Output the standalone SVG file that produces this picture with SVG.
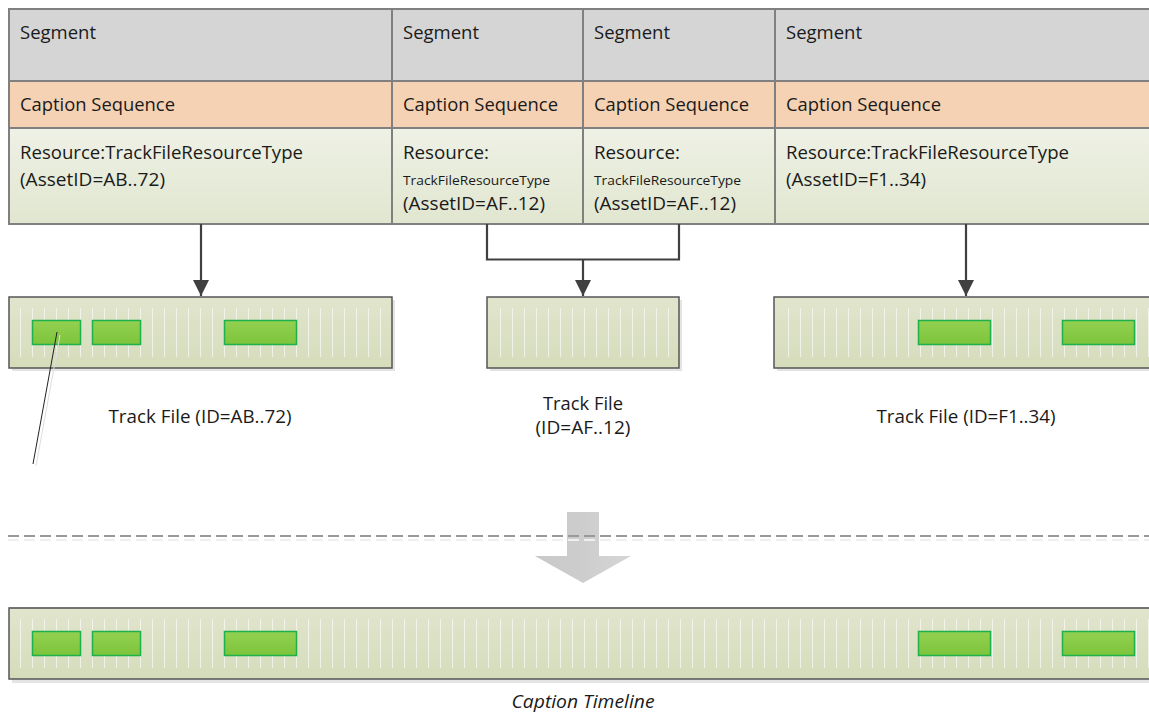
<svg xmlns="http://www.w3.org/2000/svg" width="1149" height="713" viewBox="0 0 1149 713">
<style>
text{font-family:"Open Sans","Liberation Sans",sans-serif;fill:#1a1a1a;font-size:18px}
.sm{font-size:13.5px}
.it{font-style:italic}
.seg{fill:#d5d5d5;stroke:#808080;stroke-width:2}
.cap{fill:#f6d2b4;stroke:#808080;stroke-width:2}
.res{fill:url(#gRes);stroke:#808080;stroke-width:2}
.trk{fill:url(#gTrk);stroke:#555;stroke-width:1.5}
.shd{fill:#e4e4e4}
.tick{fill:url(#pTick)}
.grn{fill:url(#gGrn);stroke:#1eb04a;stroke-width:1.5}
.con{fill:none;stroke:#404040;stroke-width:2.2}
</style>
<defs>
<linearGradient id="gRes" x1="0" y1="0" x2="0" y2="1"><stop offset="0" stop-color="#eef1e5"/><stop offset="1" stop-color="#e1e6d0"/></linearGradient>
<linearGradient id="gTrk" x1="0" y1="0" x2="0" y2="1"><stop offset="0" stop-color="#e1e5cd"/><stop offset="1" stop-color="#d5dcbb"/></linearGradient>
<linearGradient id="gGrn" x1="0" y1="0" x2="0" y2="1"><stop offset="0" stop-color="#93d151"/><stop offset="1" stop-color="#7dc43b"/></linearGradient>
<linearGradient id="gArr" x1="0" y1="0" x2="1" y2="0"><stop offset="0" stop-color="#c9c9c9"/><stop offset="0.5" stop-color="#cdcdcd"/><stop offset="1" stop-color="#d6d6d6"/></linearGradient>
<pattern id="pTick" patternUnits="userSpaceOnUse" x="20" y="0" width="12" height="713"><rect x="0" y="0" width="1" height="713" fill="#ffffff" fill-opacity="0.6"/></pattern>
<marker id="ah" viewBox="0 0 16 16" refX="16" refY="8" markerWidth="16" markerHeight="16" markerUnits="userSpaceOnUse" orient="auto"><path d="M0,0 L16,8 L0,16 z" fill="#404040"/></marker>
</defs>
<rect width="1149" height="713" fill="#ffffff"/>

<g id="segment1">
<rect class="seg" x="9" y="9" width="383" height="72"/>
<rect class="cap" x="9" y="81" width="383" height="47"/>
<rect class="res" x="9" y="128" width="383" height="96"/>
<text x="20" y="39" textLength="76" lengthAdjust="spacingAndGlyphs">Segment</text>
<text x="20" y="111" textLength="155" lengthAdjust="spacingAndGlyphs">Caption Sequence</text>
<text x="20" y="159" textLength="283" lengthAdjust="spacingAndGlyphs">Resource:TrackFileResourceType</text>
<text x="20" y="186" textLength="145" lengthAdjust="spacingAndGlyphs">(AssetID=AB..72)</text>
</g>
<g id="segment2">
<rect class="seg" x="392" y="9" width="191" height="72"/>
<rect class="cap" x="392" y="81" width="191" height="47"/>
<rect class="res" x="392" y="128" width="191" height="96"/>
<text x="403" y="39" textLength="76" lengthAdjust="spacingAndGlyphs">Segment</text>
<text x="403" y="111" textLength="155" lengthAdjust="spacingAndGlyphs">Caption Sequence</text>
<text x="403" y="159" textLength="86" lengthAdjust="spacingAndGlyphs">Resource:</text>
<text class="sm" x="403" y="185" textLength="147" lengthAdjust="spacingAndGlyphs">TrackFileResourceType</text>
<text x="403" y="210" textLength="142" lengthAdjust="spacingAndGlyphs">(AssetID=AF..12)</text>
</g>
<g id="segment3">
<rect class="seg" x="583" y="9" width="192" height="72"/>
<rect class="cap" x="583" y="81" width="192" height="47"/>
<rect class="res" x="583" y="128" width="192" height="96"/>
<text x="594" y="39" textLength="76" lengthAdjust="spacingAndGlyphs">Segment</text>
<text x="594" y="111" textLength="155" lengthAdjust="spacingAndGlyphs">Caption Sequence</text>
<text x="594" y="159" textLength="86" lengthAdjust="spacingAndGlyphs">Resource:</text>
<text class="sm" x="594" y="185" textLength="147" lengthAdjust="spacingAndGlyphs">TrackFileResourceType</text>
<text x="594" y="210" textLength="142" lengthAdjust="spacingAndGlyphs">(AssetID=AF..12)</text>
</g>
<g id="segment4">
<rect class="seg" x="775" y="9" width="390" height="72"/>
<rect class="cap" x="775" y="81" width="390" height="47"/>
<rect class="res" x="775" y="128" width="390" height="96"/>
<text x="786" y="39" textLength="76" lengthAdjust="spacingAndGlyphs">Segment</text>
<text x="786" y="111" textLength="155" lengthAdjust="spacingAndGlyphs">Caption Sequence</text>
<text x="786" y="159" textLength="283" lengthAdjust="spacingAndGlyphs">Resource:TrackFileResourceType</text>
<text x="786" y="186" textLength="140" lengthAdjust="spacingAndGlyphs">(AssetID=F1..34)</text>
</g>

<g id="connectors">
<path class="con" d="M201,224 V296" marker-end="url(#ah)"/>
<path class="con" d="M487,224 V259.5 H679 V224"/>
<path class="con" d="M583,259.5 V296" marker-end="url(#ah)"/>
<path class="con" d="M966,224 V296" marker-end="url(#ah)"/>
</g>

<g id="trackfile1">
<rect class="shd" x="12" y="300" width="383" height="71"/>
<rect class="trk" x="9" y="297" width="383" height="71"/>
<rect class="tick" x="20" y="308" width="362" height="49"/>
<rect class="grn" x="32.5" y="320.5" width="48" height="24"/>
<rect class="grn" x="92.5" y="320.5" width="48" height="24"/>
<rect class="grn" x="224.5" y="320.5" width="72" height="24"/>
<text x="200" y="423" text-anchor="middle" textLength="183" lengthAdjust="spacingAndGlyphs">Track File (ID=AB..72)</text>
</g>
<g id="trackfile2">
<rect class="shd" x="490" y="300" width="192" height="71"/>
<rect class="trk" x="487" y="297" width="192" height="71"/>
<rect class="tick" x="497" y="308" width="172" height="49"/>
<text x="583" y="410" text-anchor="middle" textLength="80" lengthAdjust="spacingAndGlyphs">Track File</text>
<text x="583" y="434" text-anchor="middle" textLength="95" lengthAdjust="spacingAndGlyphs">(ID=AF..12)</text>
</g>
<g id="trackfile3">
<rect class="shd" x="777" y="300" width="390" height="71"/>
<rect class="trk" x="774" y="297" width="390" height="71"/>
<rect class="tick" x="784" y="308" width="370" height="49"/>
<rect class="grn" x="918.5" y="320.5" width="72" height="24"/>
<rect class="grn" x="1062.5" y="320.5" width="72" height="24"/>
<text x="966" y="423" text-anchor="middle" textLength="179" lengthAdjust="spacingAndGlyphs">Track File (ID=F1..34)</text>
</g>

<g id="pointer">
<line x1="60" y1="335" x2="36" y2="466" stroke="#dedede" stroke-width="1"/>
<line x1="57" y1="332" x2="33" y2="464" stroke="#222" stroke-width="1"/>
</g>

<g id="merge-arrow">
<polygon points="567,512 599,512 599,556 631,556 583,583 535,556 567,556" fill="url(#gArr)"/>
</g>

<g id="divider">
<line x1="8" y1="540" x2="1160" y2="540" stroke="#efefef" stroke-width="2" stroke-dasharray="11 5"/>
<line x1="8" y1="536" x2="1160" y2="536" stroke="#999" stroke-width="2" stroke-dasharray="11 5"/>
</g>

<g id="timeline">
<rect class="shd" x="12" y="611" width="1160" height="72"/>
<rect class="trk" x="9" y="608" width="1160" height="71"/>
<line x1="9" y1="608" x2="1160" y2="608" stroke="#707070" stroke-width="1.5"/>
<rect class="tick" x="20" y="619" width="1140" height="49"/>
<rect class="grn" x="32.5" y="631.5" width="48" height="24"/>
<rect class="grn" x="92.5" y="631.5" width="48" height="24"/>
<rect class="grn" x="224.5" y="631.5" width="72" height="24"/>
<rect class="grn" x="918.5" y="631.5" width="72" height="24"/>
<rect class="grn" x="1062.5" y="631.5" width="72" height="24"/>
<text class="it" x="583" y="708" text-anchor="middle" font-size="17" textLength="143" lengthAdjust="spacingAndGlyphs">Caption Timeline</text>
</g>
</svg>
